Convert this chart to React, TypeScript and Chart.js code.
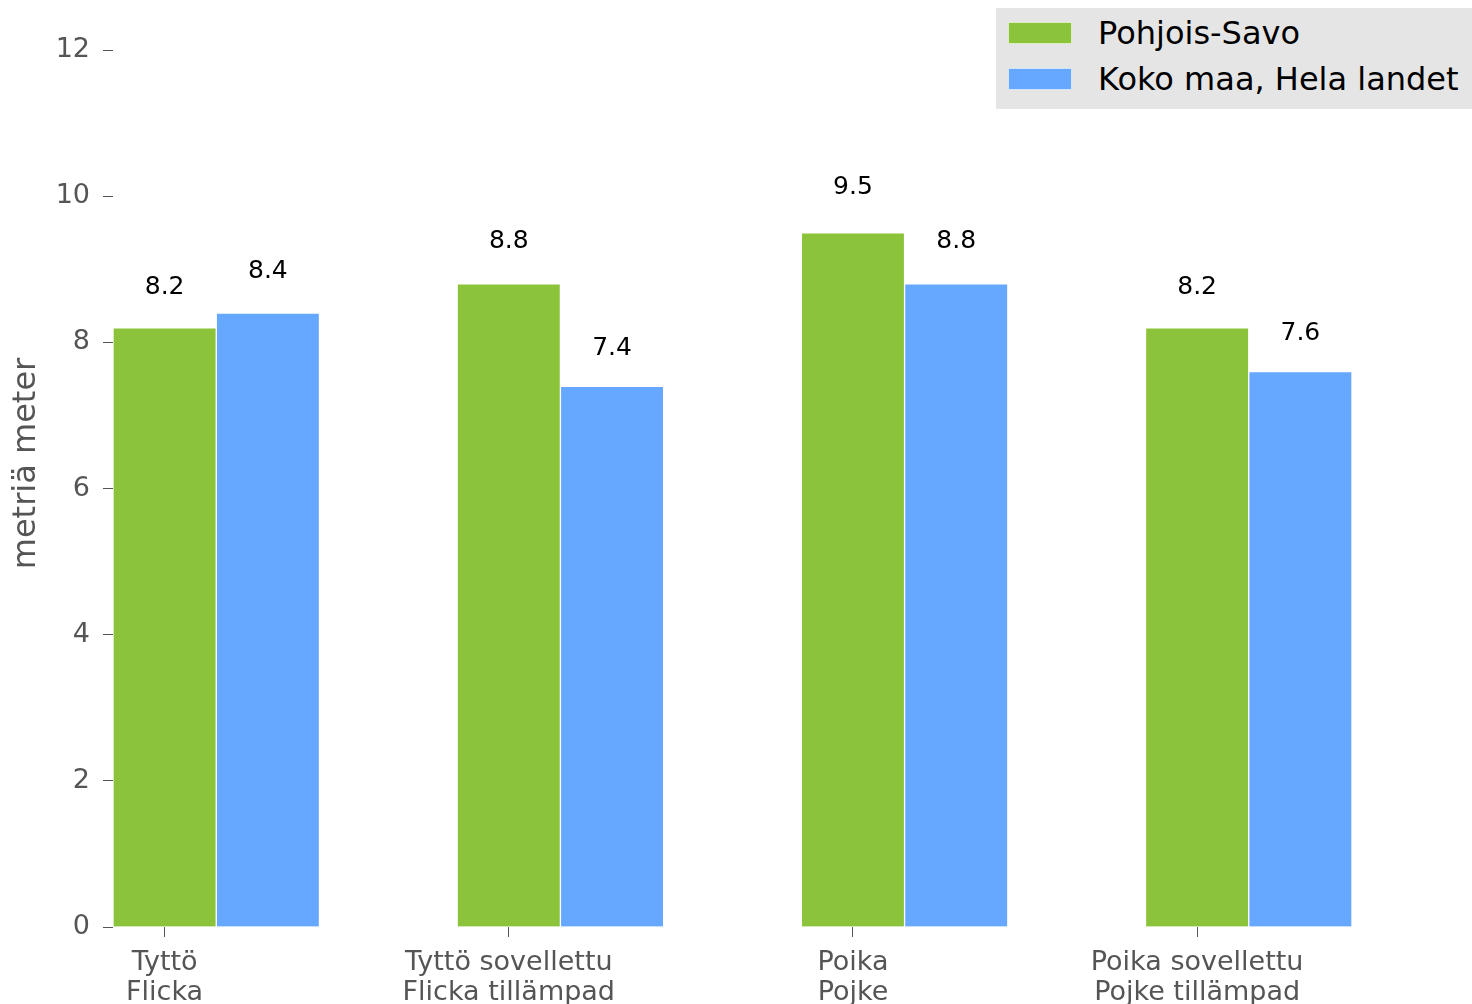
import React, { useEffect, useRef } from "react";
import { Chart, registerables } from "chart.js";

Chart.register(...registerables);

const categories: string[][] = [
  ["Tyttö", "Flicka"],
  ["Tyttö sovellettu", "Flicka tillämpad"],
  ["Poika", "Pojke"],
  ["Poika sovellettu", "Pojke tillämpad"],
];
const seriesNames = ["Pohjois-Savo", "Koko maa, Hela landet"];
const pohjoisSavo = [8.2, 8.8, 9.5, 8.2];
const kokoMaa = [8.4, 7.4, 8.8, 7.6];
const yTicks = [0, 2, 4, 6, 8, 10, 12];
const yTitle = "metriä meter";

const GREEN = "#8bc33a";
const BLUE = "#66a8ff";
const FONT = "'DejaVu Sans', sans-serif";

const valueLabels = {
  id: "valueLabels",
  afterDatasetsDraw(chart: any) {
    const ctx = chart.ctx;
    const yScale = chart.scales.y;
    ctx.save();
    ctx.font = `25px ${FONT}`;
    ctx.fillStyle = "#000";
    ctx.textAlign = "center";
    ctx.textBaseline = "alphabetic";
    chart.data.datasets.forEach((ds: any, di: number) => {
      const meta = chart.getDatasetMeta(di);
      meta.data.forEach((el: any, i: number) => {
        const v = ds.data[i].y;
        const y = yScale.getPixelForValue(v * 1.05) - 4;
        ctx.fillText(v.toFixed(1), el.x, y);
      });
    });
    ctx.restore();
  },
};

const zeroPadding = (scale: any) => {
  scale.paddingTop = 0;
  scale.paddingBottom = 0;
  scale.paddingLeft = 0;
  scale.paddingRight = 0;
};

export default function App() {
  const canvasRef = useRef<HTMLCanvasElement | null>(null);

  useEffect(() => {
    document.body.style.margin = "0";
    const canvas = canvasRef.current;
    if (!canvas) return;
    const chart = new Chart(canvas, {
      type: "bar",
      data: {
        datasets: [
          {
            label: seriesNames[0],
            data: pohjoisSavo.map((v, i) => ({ x: i, y: v })),
            backgroundColor: GREEN,
            borderColor: "rgba(255,255,255,0.7)",
            borderWidth: 1,
          },
          {
            label: seriesNames[1],
            data: kokoMaa.map((v, i) => ({ x: i + 0.3, y: v })),
            backgroundColor: BLUE,
            borderColor: "rgba(255,255,255,0.7)",
            borderWidth: 1,
          },
        ],
      },
      options: {
        responsive: false,
        animation: false,
        events: [],
        grouped: false,
        barPercentage: 1,
        categoryPercentage: 1,
        layout: { padding: { left: 0, right: 120, top: 0, bottom: 0 } },
        plugins: {
          legend: { display: false },
          tooltip: { enabled: false },
        },
        scales: {
          x: {
            type: "linear",
            min: -0.15,
            max: 3.45,
            offset: false,
            grid: {
              display: true,
              offset: false,
              drawOnChartArea: false,
              drawTicks: true,
              tickLength: 10,
              tickColor: "#555",
              tickWidth: 1,
            },
            border: { display: false },
            afterBuildTicks: (scale: any) => {
              scale.ticks = categories.map((_, i) => ({ value: i }));
            },
            afterFit: (scale: any) => {
              scale.height = 77;
              zeroPadding(scale);
            },
            ticks: {
              autoSkip: false,
              maxRotation: 0,
              padding: 11,
              color: "#555",
              font: { family: FONT, size: 27, lineHeight: 1.11 },
              callback: (v: any) => categories[Math.round(Number(v))] ?? "",
            },
          },
          y: {
            type: "linear",
            min: 0,
            max: 12.685,
            grid: {
              display: true,
              drawOnChartArea: false,
              drawTicks: true,
              tickLength: 10,
              tickColor: "#555",
              tickWidth: 1,
            },
            border: { display: false },
            afterBuildTicks: (scale: any) => {
              scale.ticks = yTicks.map((v) => ({ value: v }));
            },
            afterFit: (scale: any) => {
              scale.width = 113;
              zeroPadding(scale);
            },
            ticks: {
              padding: 13,
              color: "#555",
              font: { family: FONT, size: 27 },
            },
            title: {
              display: true,
              text: yTitle,
              color: "#555",
              font: { family: FONT, size: 32 },
              padding: { top: 7, bottom: 0 },
            },
          },
        },
      },
      plugins: [valueLabels],
    } as any);
    return () => chart.destroy();
  }, []);

  return (
    <div style={{ position: "relative", width: 1472, height: 1004, background: "#fff" }}>
      <canvas ref={canvasRef} width={1472} height={1004} style={{ display: "block" }} />
      <div
        style={{
          position: "absolute",
          left: 996,
          top: 8,
          width: 476,
          height: 101,
          background: "#e5e5e5",
          fontFamily: FONT,
          fontSize: 32,
          color: "#000",
        }}
      >
        {seriesNames.map((name, i) => (
          <div key={name}>
            <div
              style={{
                position: "absolute",
                left: 12,
                top: 14 + i * 46,
                width: 64,
                height: 22,
                background: i === 0 ? GREEN : BLUE,
                border: "1px solid rgba(255,255,255,0.7)",
                boxSizing: "border-box",
              }}
            />
            <div
              style={{
                position: "absolute",
                left: 102,
                top: 25 + i * 46 - 20,
                height: 40,
                lineHeight: "40px",
                whiteSpace: "nowrap",
              }}
            >
              {name}
            </div>
          </div>
        ))}
      </div>
    </div>
  );
}
